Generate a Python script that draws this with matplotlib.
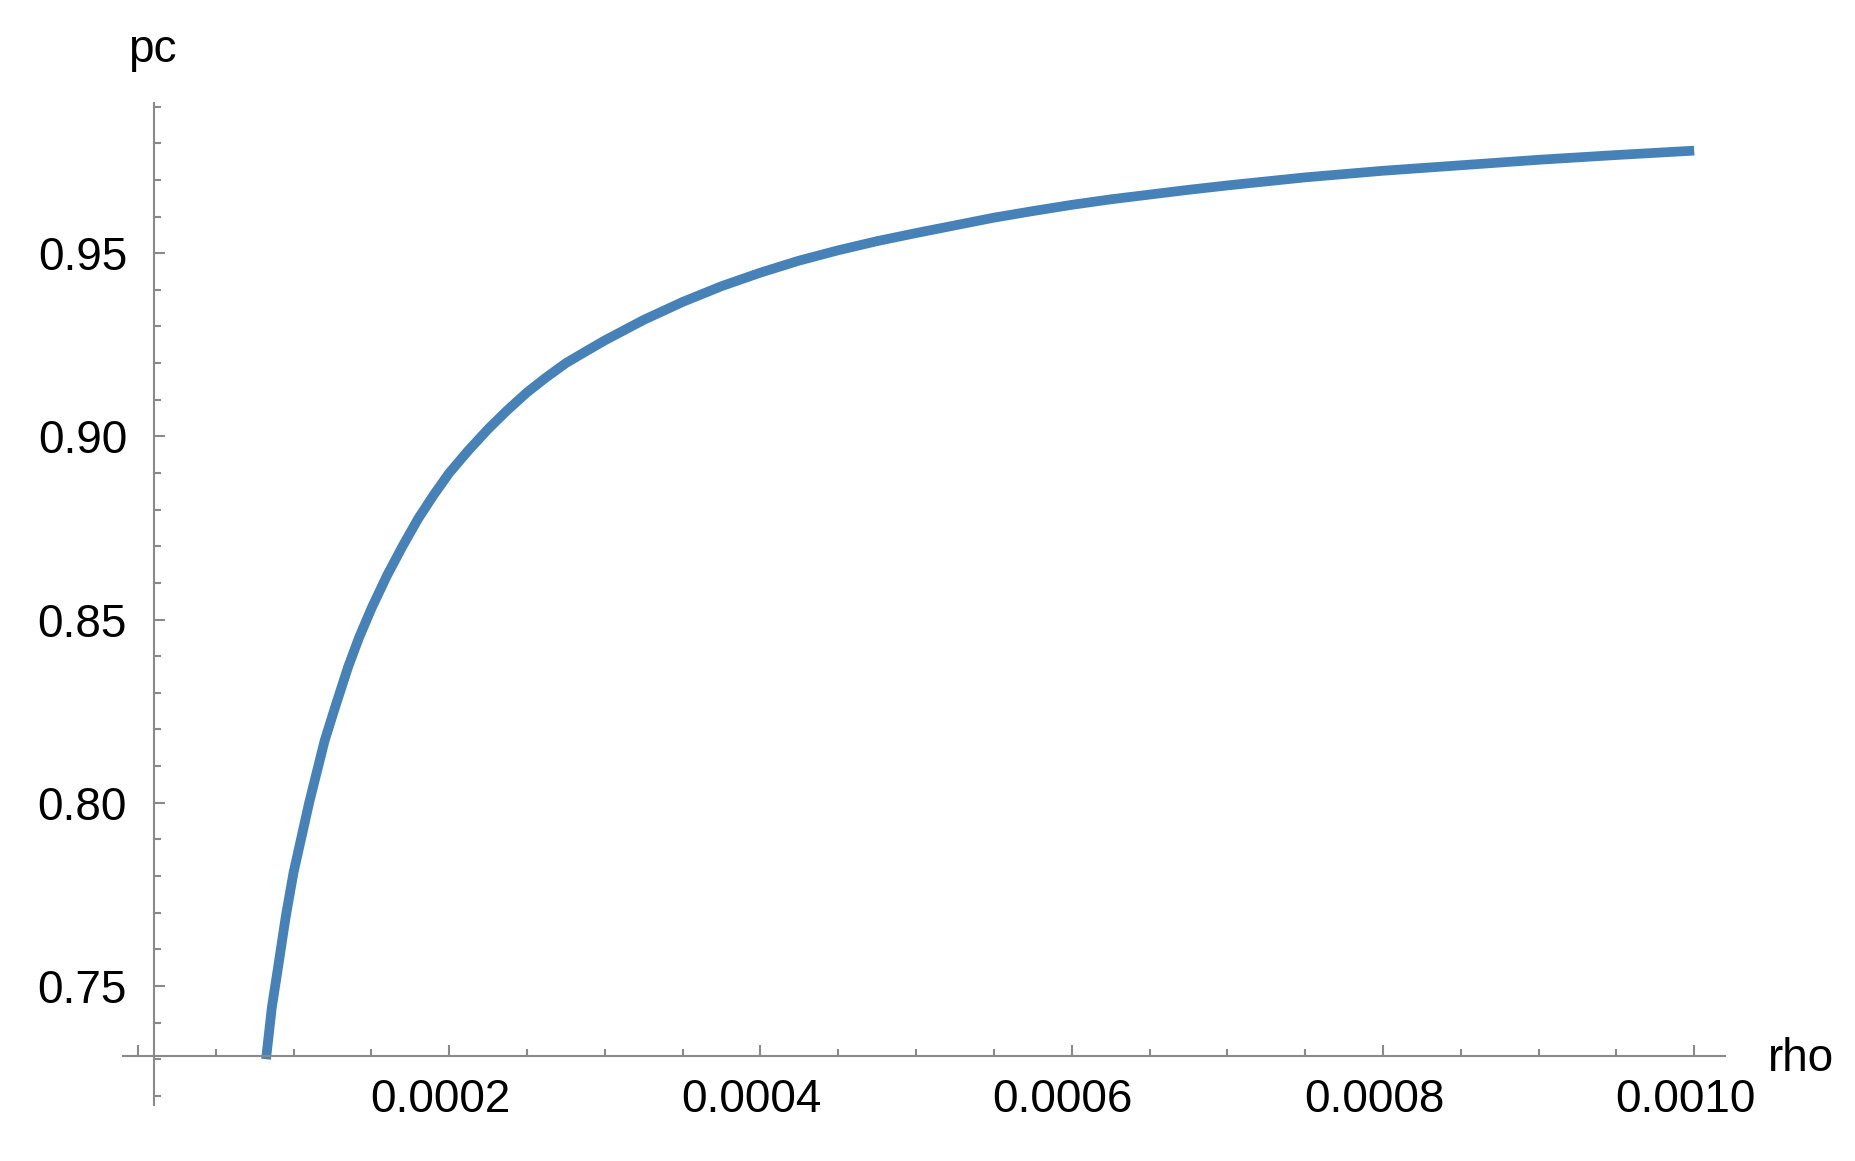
import matplotlib.pyplot as plt
import matplotlib.ticker as mticker
import matplotlib.transforms as mtransforms

plt.rcParams['font.family'] = ['Liberation Sans', 'DejaVu Sans']

# values
rho = [0.0000823, 0.000086, 0.000090, 0.000095, 0.000100, 0.000105, 0.000110,
       0.000115, 0.000120, 0.000127, 0.000135, 0.000142, 0.000150, 0.000160,
       0.000170, 0.000180, 0.000190, 0.000200, 0.000212, 0.000225, 0.000237,
       0.000250, 0.000262, 0.000275, 0.000287, 0.000300, 0.000325, 0.000350,
       0.000375, 0.000400, 0.000425, 0.000450, 0.000475, 0.000500, 0.000525,
       0.000550, 0.000575, 0.000600, 0.000625, 0.000650, 0.000675, 0.000700,
       0.000725, 0.000750, 0.000775, 0.000800, 0.000850, 0.000900, 0.000950,
       0.001000]
pc = [0.730, 0.744, 0.755, 0.769, 0.781, 0.7905, 0.800,
      0.8085, 0.817, 0.8265, 0.837, 0.845, 0.853, 0.862,
      0.870, 0.8775, 0.884, 0.890, 0.896, 0.902, 0.907,
      0.912, 0.916, 0.920, 0.923, 0.9262, 0.9318, 0.9367,
      0.941, 0.9447, 0.948, 0.9508, 0.9533, 0.9555, 0.9576,
      0.9597, 0.9615, 0.9632, 0.9647, 0.966, 0.9673, 0.9685,
      0.9696, 0.9707, 0.9716, 0.9725, 0.974, 0.9755, 0.9768,
      0.978]

x_major = [0.0, 0.0002, 0.0004, 0.0006, 0.0008, 0.0010]
x_labels = ['', '0.0002', '0.0004', '0.0006', '0.0008', '0.0010']
y_major = [0.75, 0.80, 0.85, 0.90, 0.95]
y_labels = ['0.75', '0.80', '0.85', '0.90', '0.95']

fig = plt.figure(figsize=(18.56, 11.61), dpi=100)
ax = fig.add_axes([122.7 / 1856, 56 / 1161, (1725 - 122.7) / 1856, (1105 - 103) / 1161])

ax.plot(rho, pc, color='#4682b7', lw=7, solid_capstyle='butt', solid_joinstyle='round')

ax.set_xlim(-0.0000098, 0.0010198)
ax.set_ylim(0.7175, 0.991)

# Mathematica style crossing axes
axis_col = '#8a8a8a'
ax.spines['right'].set_visible(False)
ax.spines['top'].set_visible(False)
ax.spines['left'].set_position(('data', 0.00001))
ax.spines['bottom'].set_position(('data', 0.7308))
for s in ['left', 'bottom']:
    ax.spines[s].set_color(axis_col)
    ax.spines[s].set_linewidth(1.5)

ax.set_xticks(x_major)
ax.set_xticklabels(x_labels)
ax.xaxis.set_minor_locator(mticker.MultipleLocator(0.00005))
ax.set_yticks(y_major)
ax.set_yticklabels(y_labels)
ax.yaxis.set_minor_locator(mticker.MultipleLocator(0.01))

ax.tick_params(which='both', direction='in', color=axis_col, width=1.5)
ax.tick_params(which='major', length=8, labelsize=33)
ax.tick_params(which='minor', length=5)
ax.tick_params(axis='x', which='major', pad=16)
ax.tick_params(axis='y', which='major', pad=19)

# labels sit a little left of their ticks in the reference
shift = mtransforms.ScaledTranslation(-9 / 100, 0, fig.dpi_scale_trans)
for lab in ax.get_xticklabels():
    lab.set_transform(lab.get_transform() + shift)

fig.text(128 / 1856, 1 - 62 / 1161, 'pc', fontsize=33, va='baseline', ha='left')
fig.text(1768 / 1856, 1 - 1071 / 1161, 'rho', fontsize=33, va='baseline', ha='left')

fig.savefig('out.png', dpi=100)
